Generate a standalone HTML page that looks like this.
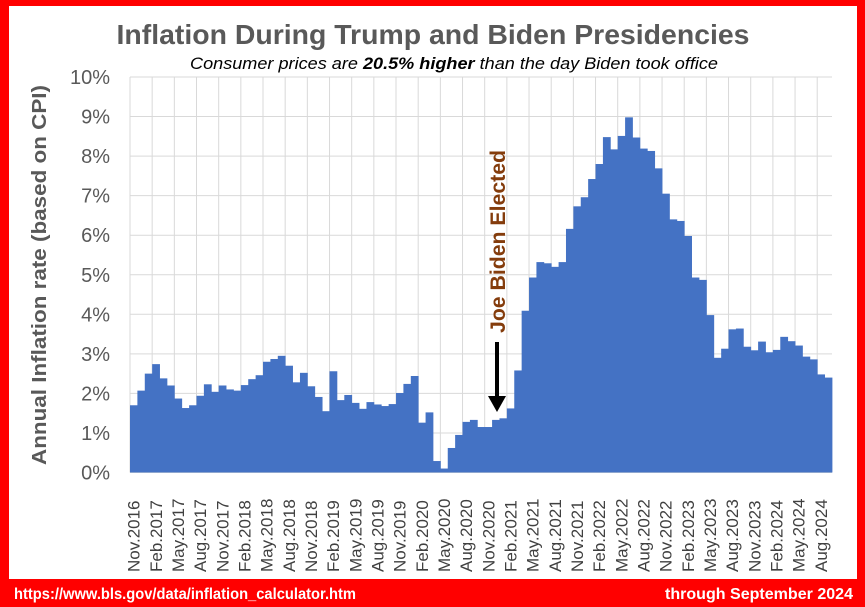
<!DOCTYPE html>
<html><head><meta charset="utf-8"><style>
html,body{margin:0;padding:0;background:#fff}
svg{display:block;font-family:"Liberation Sans",sans-serif}
</style></head><body>
<svg id="chart" width="865" height="607" viewBox="0 0 865 607">
<rect x="0" y="0" width="865" height="607" fill="#ff0000"/>
<rect x="9" y="6" width="848" height="573" fill="#ffffff"/>
<text x="433" y="44" text-anchor="middle" font-size="28" font-weight="bold" fill="#595959" textLength="633" lengthAdjust="spacingAndGlyphs">Inflation During Trump and Biden Presidencies</text>
<text x="454" y="69" text-anchor="middle" font-size="17" font-style="italic" fill="#000" textLength="528" lengthAdjust="spacingAndGlyphs">Consumer prices are <tspan font-weight="bold">20.5% higher</tspan> than the day Biden took office</text>
<g id="grid"></g>
<g id="bars"></g>
<g id="yticks"></g>
<g id="xticks"></g>
<text transform="translate(46,275) rotate(-90)" text-anchor="middle" font-size="20" font-weight="bold" fill="#595959" textLength="380" lengthAdjust="spacingAndGlyphs">Annual Inflation rate (based on CPI)</text>
<text transform="translate(505,333) rotate(-90)" font-size="21" font-weight="bold" fill="#843c0c" textLength="183" lengthAdjust="spacingAndGlyphs">Joe Biden Elected</text>
<line x1="497" y1="342" x2="497" y2="398" stroke="#000" stroke-width="4"/>
<polygon points="488,396 506,396 497,412" fill="#000"/>
<text x="14" y="599" font-size="16" font-weight="bold" fill="#fff" textLength="342" lengthAdjust="spacingAndGlyphs">https://www.bls.gov/data/inflation_calculator.htm</text>
<text x="853" y="599" text-anchor="end" font-size="16" font-weight="bold" fill="#fff" textLength="188" lengthAdjust="spacingAndGlyphs">through September 2024</text>
</svg>
<script>
const startYear = 2016, startMonth = 10;
const values = [1.7,2.07,2.5,2.74,2.38,2.2,1.87,1.63,1.7,1.94,2.23,2.04,2.2,2.1,2.07,2.21,2.36,2.46,2.8,2.87,2.95,2.7,2.28,2.52,2.18,1.91,1.55,2.56,
1.83,1.96,1.76,1.61,1.78,1.72,1.68,1.73,2.01,2.24,2.44,1.26,1.52,0.29,0.1,0.62,0.95,1.28,1.33,1.15,1.15,1.33,1.37,1.62,2.58,4.09,4.93,5.32,5.29,5.2,5.32,6.16,6.73,6.96,7.42,7.8,8.48,8.17,8.51,8.98,8.47,8.19,8.13,7.69,7.05,6.4,6.36,5.98,4.93,4.87,3.98,2.9,3.13,3.62,3.64,3.18,3.09,3.31,3.04,3.1,3.43,3.32,3.21,2.93,2.86,2.48,2.4];
const monthNames = ["Jan","Feb","Mar","Apr","May","Jun","Jul","Aug","Sep","Oct","Nov","Dec"];
const yTicks = [0,1,2,3,4,5,6,7,8,9,10];
const yTickLabels = ["0%","1%","2%","3%","4%","5%","6%","7%","8%","9%","10%"];
const NS = "http://www.w3.org/2000/svg";
const X0 = 130, X1 = 832, Y0 = 472.5, Y1 = 77;
const bw = (X1 - X0) / values.length;
function xScale(i){ return X0 + i * bw; }
function yScale(v){ return Y0 - (v / 10) * (Y0 - Y1); }
function mk(tag, attrs, parent){ const e = document.createElementNS(NS, tag); for (const k in attrs) e.setAttribute(k, attrs[k]); parent.appendChild(e); return e; }
const grid = document.getElementById('grid'), bars = document.getElementById('bars'), yt = document.getElementById('yticks'), xt = document.getElementById('xticks');
yTicks.forEach((t, k) => {
  const l = mk('line', {x1: X0, x2: X1, y1: yScale(t), y2: yScale(t), stroke: '#d9d9d9', 'stroke-width': 1}, grid);
  
  
  const tx = mk('text', {x: 110, y: yScale(t) + 7, 'text-anchor': 'end', 'font-size': 20, fill: '#595959'}, yt);
  tx.textContent = yTickLabels[k];
  
  
});
for (let i = 0; i <= values.length; i += 3) {
  const l = mk('line', {x1: xScale(i), x2: xScale(i), y1: Y1, y2: Y0, stroke: '#d9d9d9', 'stroke-width': 1}, grid);
  
  
}
values.forEach((v, i) => {
  const r = mk('rect', {x: xScale(i), y: yScale(v), width: bw + 0.4, height: Y0 - yScale(v), fill: '#4472c4'}, bars);
  
  
  if (i % 3 === 0) {
    const m = (startMonth + i) % 12, y = startYear + Math.floor((startMonth + i) / 12);
    const cx = xScale(i) + bw / 2 + 6;
    const t = mk('text', {transform: `translate(${cx},572) rotate(-90)`, 'font-size': 17, fill: '#404040'}, xt);
    t.textContent = monthNames[m] + '.' + y;
    
    
  }
});
mk('line', {x1: X0, x2: X1, y1: Y0, y2: Y0, stroke: '#d9d9d9', 'stroke-width': 1}, grid);
</script>
</body></html>
